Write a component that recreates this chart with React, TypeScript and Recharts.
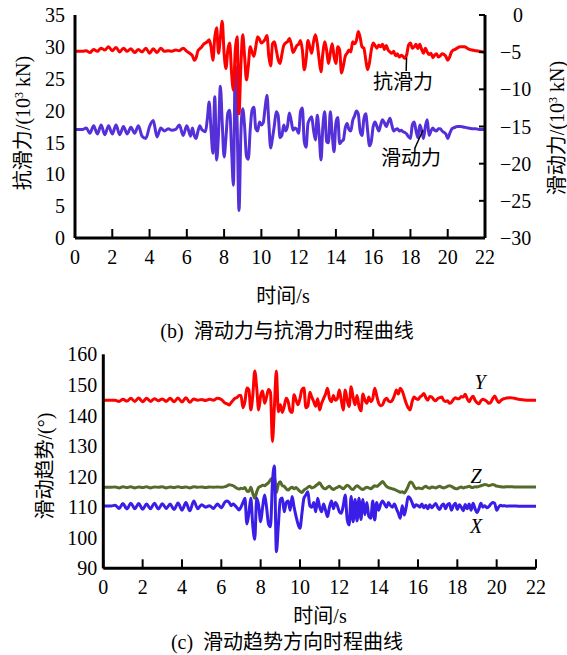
import React from 'react';
import { LineChart, Line, XAxis, YAxis, ReferenceLine } from 'recharts';

const FONT = "'Liberation Serif', 'Noto Sans CJK SC', serif";

// time axis (s): 0.2 s steps when quiet, 0.1 s while shaking
const TIME = [
  0, 0.2, 0.4, 0.6, 0.8, 1, 1.2, 1.4, 1.6, 1.8, 2, 2.2, 2.4, 2.6, 2.8, 3,
  3.2, 3.4, 3.6, 3.8, 4, 4.2, 4.4, 4.6, 4.8, 5, 5.2, 5.4, 5.6, 5.8, 6, 6.2,
  6.3, 6.4, 6.5, 6.6, 6.7, 6.8, 6.9,
  7, 7.1, 7.2, 7.3, 7.4, 7.5, 7.6, 7.7, 7.8, 7.9,
  8, 8.1, 8.2, 8.3, 8.4, 8.5, 8.6, 8.7, 8.8, 8.9,
  9, 9.1, 9.2, 9.3, 9.4, 9.5, 9.6, 9.7, 9.8, 9.9,
  10, 10.1, 10.2, 10.3, 10.4, 10.5, 10.6, 10.7, 10.8, 10.9,
  11, 11.1, 11.2, 11.3, 11.4, 11.5, 11.6, 11.7, 11.8, 11.9,
  12, 12.1, 12.2, 12.3, 12.4, 12.5, 12.6, 12.7, 12.8, 12.9,
  13, 13.1, 13.2, 13.3, 13.4, 13.5, 13.6, 13.7, 13.8, 13.9,
  14, 14.1, 14.2, 14.3, 14.4, 14.5, 14.6, 14.7, 14.8, 14.9,
  15, 15.1, 15.2, 15.3, 15.4, 15.5, 15.6, 15.7, 15.8, 15.9,
  16, 16.1, 16.2, 16.3, 16.4, 16.5, 16.6, 16.7, 16.8, 16.9,
  17, 17.1, 17.2, 17.3, 17.4, 17.5, 17.6, 17.7, 17.8, 17.9,
  18, 18.1, 18.2, 18.3, 18.4, 18.5, 18.6, 18.7, 18.8, 18.9,
  19, 19.1, 19.2, 19.3, 19.4, 19.5, 19.6, 19.7, 19.8, 19.9,
  20, 20.1, 20.2, 20.3, 20.4, 20.5,
  20.7, 20.9, 21.1, 21.3, 21.5, 21.7, 21.9, 22,
];

// (b) 抗滑力, 10^3 kN, left axis
const antiSlide = [
  29.3, 29.3, 29.3, 29.4, 29.1, 29.6, 29.3, 29.8, 29.5, 30.0, 29.4, 29.9, 29.2, 29.8, 29.3, 29.7,
  29.1, 29.6, 29.2, 29.8, 29.0, 29.7, 29.1, 29.8, 29.3, 29.4, 29.3, 29.5, 29.4, 29.8, 29.3, 28.9,
  28.6, 27.9, 28.3, 29.4, 29.7, 30.0, 30.4,
  30.6, 30.8, 31.1, 30.0, 27.9, 31.5, 33.0, 29.0, 31.5, 34.0,
  29.0, 26.6, 29.5, 30.6, 26.0, 23.2, 29.5, 31.6, 19.5, 27.0,
  31.9, 28.5, 24.8, 27.0, 30.0, 29.2, 28.5, 30.0, 31.6, 31.2,
  30.6, 30.8, 31.2, 31.8, 28.5, 27.0, 30.5, 30.8, 29.5, 28.0,
  27.4, 28.8, 30.2, 30.6, 30.8, 31.3, 30.5, 29.1, 29.6, 30.2,
  30.4, 31.0, 29.5, 26.4, 28.0, 31.0, 30.0, 29.0, 30.8, 31.9,
  30.5, 28.0, 26.1, 29.0, 30.8, 29.5, 27.4, 29.0, 30.5, 28.5,
  27.4, 30.0, 29.5, 25.9, 27.0, 28.5, 29.0, 29.5, 29.2, 30.8,
  30.5, 31.0, 32.4, 31.5, 30.0, 29.8, 28.0, 26.4, 27.5, 29.5,
  30.6, 30.2, 29.8, 30.3, 30.0, 30.4, 29.6, 30.2, 29.5, 29.2,
  29.0, 29.3, 28.6, 28.9, 28.4, 28.7, 28.5, 28.2, 28.8, 30.3,
  30.6, 29.8, 30.0, 30.4, 29.7, 30.4, 29.6, 29.0, 29.8, 29.2,
  28.8, 29.0, 28.3, 28.7, 28.9, 28.4, 28.6, 28.9, 28.8, 28.5,
  27.9, 28.4, 29.2, 29.5, 29.6, 29.8,
  30.0, 30.0, 29.7, 29.5, 29.4, 29.3, 29.2, 29.2,
];

// (b) 滑动力, 10^3 kN, right axis
const slide = [
  -15.4, -15.4, -15.4, -15.2, -15.9, -14.9, -16.0, -14.8, -16.1, -14.9, -16.0, -14.8, -16.1, -15.0, -16.0, -15.1,
  -15.9, -14.9, -16.3, -16.6, -15.0, -14.2, -16.4, -15.2, -15.6, -15.3, -15.5, -15.4, -14.8, -16.2, -14.9, -16.3,
  -15.2, -16.2, -16.6, -15.6, -14.9, -15.4, -15.6,
  -15.7, -14.0, -11.7, -15.5, -18.6, -11.0, -19.5, -16.0, -9.6, -14.5,
  -19.1, -16.5, -13.2, -12.8, -18.0, -22.9, -6.8, -14.5, -26.3, -16.0,
  -12.6, -15.0, -19.0, -19.4, -15.5, -12.8, -12.4, -15.3, -15.6, -14.4,
  -14.8, -14.5, -12.5, -10.8, -14.5, -17.9, -16.5, -14.8, -13.0, -13.5,
  -16.5, -16.2, -14.8, -15.6, -15.0, -13.2, -14.2, -15.5, -15.2, -15.4,
  -15.9, -13.0, -12.5, -17.0, -17.8, -14.6, -14.0, -13.7, -15.5, -16.8,
  -13.5, -16.0, -19.5, -15.0, -13.0, -17.0, -17.2, -13.0, -16.0, -18.4,
  -14.5, -13.8, -17.3, -17.0, -16.8, -15.2, -14.6, -15.4, -15.6, -14.2,
  -13.6, -12.9, -13.3, -15.6, -16.2, -14.0, -13.3, -15.5, -17.6, -17.0,
  -15.0, -14.4, -15.0, -15.6, -14.8, -14.1, -14.5, -15.0, -14.4, -13.9,
  -14.8, -15.6, -15.4, -15.3, -15.6, -15.5, -15.7, -15.8, -16.0, -16.4,
  -16.6, -14.8, -14.4, -15.6, -16.5, -14.8, -15.5, -16.6, -15.0, -14.1,
  -16.2, -15.6, -15.2, -15.5, -15.6, -15.3, -15.3, -15.6, -15.8, -16.0,
  -16.6, -16.0, -15.4, -15.2, -15.1, -15.0,
  -15.0, -15.1, -15.2, -15.3, -15.3, -15.4, -15.4, -15.4,
];

// (c) 滑动趋势, degrees
const dirY = [
  145.0, 145.0, 145.0, 145.0, 144.6, 145.3, 144.7, 145.6, 144.6, 145.7, 144.5, 145.6, 144.6, 145.5, 144.8, 145.4,
  144.6, 145.6, 144.5, 145.7, 144.4, 145.8, 144.3, 145.4, 145.0, 145.2, 144.9, 145.3, 145.0, 145.6, 145.2, 144.0,
  143.8, 143.4, 144.2, 145.0, 145.6, 145.9, 146.5,
  146.5, 142.5, 144.5, 149.0, 148.5, 141.8, 146.5, 154.5, 149.0, 141.8,
  146.5, 148.0, 144.0, 146.0, 148.5, 147.5, 131.5, 143.0, 154.5, 141.2,
  143.5, 141.0, 143.0, 145.6, 144.5, 141.5, 141.0, 146.8, 145.0, 143.5,
  145.5, 148.5, 149.0, 142.5, 143.0, 147.6, 146.0, 144.5, 143.0, 145.5,
  141.8, 144.0, 145.5, 147.0, 148.9, 145.5, 144.5, 146.5, 145.0, 145.5,
  148.3, 145.0, 141.8, 148.3, 145.0, 142.9, 149.4, 146.0, 143.5, 146.5,
  143.0, 141.5, 147.0, 145.0, 144.0, 146.0, 144.5, 145.5, 148.9, 146.5,
  144.0, 143.2, 143.5, 145.0, 145.6, 144.8, 144.5, 145.0, 146.5, 148.3,
  147.0, 148.9, 148.0, 146.0, 144.0, 142.5, 141.8, 144.5, 146.0, 145.5,
  145.2, 146.0, 146.5, 147.2, 145.8, 145.0, 146.2, 146.0, 145.2, 144.8,
  145.5, 145.8, 146.0, 145.0, 144.6, 144.8, 144.0, 144.3, 145.2, 145.8,
  145.5, 145.5, 146.2, 146.0, 146.9, 145.5, 144.5, 145.6, 146.3, 145.0,
  144.2, 143.8, 144.8, 145.3, 145.0, 144.6, 144.0, 144.3, 145.5, 146.4,
  145.2, 144.2, 144.8, 145.3, 145.5, 145.7,
  145.8, 145.6, 145.3, 145.1, 145.0, 145.0, 145.0, 145.0,
];

const dirZ = [
  116.5, 116.5, 116.5, 116.6, 116.3, 116.7, 116.4, 116.7, 116.3, 116.6, 116.4, 116.7, 116.3, 116.6, 116.5, 116.7,
  116.3, 116.6, 116.4, 116.7, 116.4, 116.6, 116.3, 116.7, 116.5, 116.6, 116.4, 116.6, 116.5, 116.6, 116.5, 116.7,
  117.0, 117.3, 117.2, 117.0, 116.6, 116.2, 115.9,
  116.2, 116.0, 116.4, 115.3, 115.1, 116.5, 114.5, 112.9, 115.0, 116.5,
  116.8, 117.2, 117.0, 117.5, 118.0, 119.0, 119.5, 120.0, 114.8, 117.5,
  118.3, 117.0, 116.8, 116.0, 115.6, 116.2, 116.5, 116.0, 116.4, 115.8,
  115.2, 114.8, 115.6, 116.0, 116.5, 116.8, 116.3, 116.5, 117.0, 117.5,
  118.0, 117.0, 116.2, 116.0, 116.5, 116.8, 116.2, 115.8, 116.2, 116.5,
  116.8, 116.4, 116.0, 116.6, 117.2, 116.8, 116.0, 115.8, 116.5, 117.0,
  116.6, 116.0, 115.8, 116.2, 116.5, 116.3, 116.0, 116.5, 117.0, 116.8,
  117.2, 117.8, 118.4, 117.6, 116.8, 116.4, 116.2, 116.0, 115.8, 115.5,
  115.2, 114.9, 115.0, 114.6, 115.5, 116.8, 118.2, 118.0, 116.8, 116.0,
  116.3, 116.2, 116.0, 116.5, 116.8, 116.4, 116.2, 116.6, 116.5, 116.3,
  116.6, 116.8, 116.5, 116.3, 116.5, 116.8, 117.0, 116.8, 116.4, 116.1,
  116.0, 116.4, 116.6, 116.3, 116.5, 116.6, 116.8, 116.5, 116.4, 116.7,
  116.6, 116.8, 117.0, 117.2, 117.4, 117.3, 117.0, 117.2, 117.4, 117.2,
  116.9, 116.8, 116.7, 116.6, 116.6, 116.7,
  116.7, 116.6, 116.6, 116.6, 116.6, 116.6, 116.6, 116.6,
];

const dirX = [
  110.4, 110.4, 110.4, 110.6, 109.6, 111.2, 109.4, 111.3, 109.5, 111.2, 109.3, 111.0, 109.5, 111.3, 109.4, 111.1,
  109.6, 111.0, 109.2, 111.4, 109.0, 111.5, 108.8, 112.0, 109.5, 110.8, 110.0, 110.5, 109.6, 111.0, 109.8, 111.8,
  112.0, 111.5, 110.5, 111.0, 110.5, 109.8, 109.1,
  110.0, 111.5, 112.9, 104.5, 108.0, 112.9, 104.0, 99.5, 112.9, 110.5,
  105.2, 110.0, 114.0, 110.0, 104.5, 103.6, 118.0, 123.5, 95.4, 104.0,
  112.5, 113.0, 108.5, 111.5, 112.0, 109.0, 113.5, 110.0, 107.0, 104.5,
  103.1, 108.0, 112.9, 114.0, 115.0, 110.5, 110.0, 111.5, 108.5, 112.9,
  110.0, 108.5, 111.0, 109.0, 106.9, 110.0, 112.0, 109.5, 111.5, 110.5,
  108.5, 108.0, 110.5, 114.0, 106.0, 104.2, 113.5, 105.2, 112.5, 105.5,
  112.9, 106.0, 112.5, 107.5, 111.5, 107.0, 106.4, 112.0, 105.8, 111.5,
  109.0, 111.0, 112.0, 111.0, 110.0, 111.5, 110.5, 110.0, 111.0, 109.5,
  108.0, 106.4, 110.5, 107.4, 110.0, 113.4, 112.9, 111.5, 110.0, 110.8,
  110.5, 110.0, 111.0, 109.8, 110.6, 109.5, 110.8, 109.8, 110.5, 111.2,
  110.0, 109.2, 110.5, 111.0, 109.5, 110.8, 111.2, 109.0, 110.5, 111.3,
  109.2, 110.8, 110.0, 108.8, 110.9, 109.5, 111.0, 109.0, 111.3, 109.5,
  108.2, 109.5, 111.3, 110.0, 110.5, 109.8, 110.2, 111.0, 111.5, 111.3,
  109.0, 110.0, 110.6, 110.4, 110.5, 110.3,
  110.4, 110.4, 110.3, 110.3, 110.3, 110.3, 110.3, 110.3,
];

const timeTicks = [0, 2, 4, 6, 8, 10, 12, 14, 16, 18, 20, 22];
const leftTicksB = [0, 5, 10, 15, 20, 25, 30, 35];
const rightTicksB = [0, -5, -10, -15, -20, -25, -30];
const ticksC = [90, 100, 110, 120, 130, 140, 150, 160];

const dataB = TIME.map((t, i) => ({ t, anti: antiSlide[i], slide: slide[i] }));
const dataC = TIME.map((t, i) => ({ t, x: dirX[i], y: dirY[i], z: dirZ[i] }));

const tickStyle = { fill: '#000', fontSize: 20, fontFamily: FONT };
const axisLine = { stroke: '#000', strokeWidth: 3 };
const tickLine = { stroke: '#000', strokeWidth: 2 };

function RightTick(props: any) {
  const { x, y, payload } = props;
  const v = payload.value;
  const label = v < 0 ? '\u2212' + Math.abs(v) : String(v);
  return (
    <text x={x + (v === 0 ? 13 : 0)} y={y} dy="0.35em" textAnchor="start" fill="#000" fontSize={20} style={{ fontFamily: FONT }}>
      {label}
    </text>
  );
}

function Txt({ x, y, children, rotate = false, italic = false }: any) {
  return (
    <div
      style={{
        position: 'absolute',
        left: x,
        top: y,
        transform: `translate(-50%, -50%)${rotate ? ' rotate(-90deg)' : ''}`,
        whiteSpace: 'nowrap',
        fontSize: 20,
        lineHeight: 1,
        fontFamily: FONT,
        fontStyle: italic ? 'italic' : 'normal',
        color: '#000',
      }}
    >
      {children}
    </div>
  );
}

export default function App() {
  return (
    <div style={{ position: 'absolute', left: 0, top: 0, width: 567, height: 655, background: '#fff', fontFamily: FONT }}>
      <div style={{ position: 'absolute', left: 0, top: 0 }}>
        <LineChart width={567} height={300} data={dataB} margin={{ top: 15, right: 22, bottom: 32, left: 15 }}>
          <XAxis
            type="number"
            dataKey="t"
            domain={[0, 22]}
            ticks={timeTicks}
            tick={tickStyle}
            axisLine={axisLine}
            tickLine={tickLine}
            tickSize={-9}
            tickMargin={21}
            height={30}
          />
          <YAxis
            yAxisId="left"
            domain={[0, 35]}
            ticks={leftTicksB}
            tick={tickStyle}
            axisLine={axisLine}
            tickLine={false}
            tickSize={0}
            tickMargin={10}
            width={60}
          />
          <YAxis
            yAxisId="right"
            orientation="right"
            domain={[-30, 0]}
            ticks={rightTicksB}
            tick={<RightTick />}
            axisLine={axisLine}
            tickLine={tickLine}
            tickSize={-6}
            tickMargin={21}
            width={60}
          />
          <Line yAxisId="right" type="monotone" dataKey="slide" stroke="#5530d8" strokeWidth={3} dot={false} isAnimationActive={false} />
          <Line yAxisId="left" type="monotone" dataKey="anti" stroke="#ff0000" strokeWidth={3} dot={false} isAnimationActive={false} />
          <ReferenceLine yAxisId="left" segment={[{ x: 17.79, y: 28.3 }, { x: 17.77, y: 26.2 }]} stroke="#000" strokeWidth={1.5} />
          <ReferenceLine yAxisId="right" segment={[{ x: 18.67, y: -15.5 }, { x: 18.24, y: -17.9 }]} stroke="#000" strokeWidth={1.5} />
        </LineChart>
      </div>

      <div style={{ position: 'absolute', left: 0, top: 340 }}>
        <LineChart width={567} height={315} data={dataC} margin={{ top: 14.3, right: 31, bottom: 56.7, left: 43.3 }}>
          <XAxis
            type="number"
            dataKey="t"
            domain={[0, 22]}
            ticks={timeTicks}
            tick={tickStyle}
            axisLine={axisLine}
            tickLine={tickLine}
            tickSize={-9}
            tickMargin={20}
            height={30}
          />
          <YAxis
            domain={[90, 160]}
            ticks={ticksC}
            tick={tickStyle}
            axisLine={axisLine}
            tickLine={false}
            tickSize={0}
            tickMargin={6}
            width={60}
          />
          <Line type="monotone" dataKey="y" stroke="#ff0000" strokeWidth={3} dot={false} isAnimationActive={false} />
          <Line type="monotone" dataKey="z" stroke="#556b2c" strokeWidth={3} dot={false} isAnimationActive={false} />
          <Line type="monotone" dataKey="x" stroke="#3a1de6" strokeWidth={3} dot={false} isAnimationActive={false} />
        </LineChart>
      </div>

      <Txt x={22.5} y={123} rotate>抗滑力/(10<sup style={{ fontSize: 12 }}>3</sup> kN)</Txt>
      <Txt x={557} y={128} rotate>滑动力/(10<sup style={{ fontSize: 12 }}>3</sup> kN)</Txt>
      <Txt x={403} y={82}>抗滑力</Txt>
      <Txt x={411} y={158}>滑动力</Txt>
      <Txt x={283} y={296}>时间/s</Txt>
      <Txt x={287} y={331}>(b)&nbsp; 滑动力与抗滑力时程曲线</Txt>

      <Txt x={45} y={466} rotate>滑动趋势/(°)</Txt>
      <Txt x={480} y={382} italic>Y</Txt>
      <Txt x={476} y={476} italic>Z</Txt>
      <Txt x={476} y={526} italic>X</Txt>
      <Txt x={320} y={616}>时间/s</Txt>
      <Txt x={287} y={642}>(c)&nbsp; 滑动趋势方向时程曲线</Txt>
    </div>
  );
}
